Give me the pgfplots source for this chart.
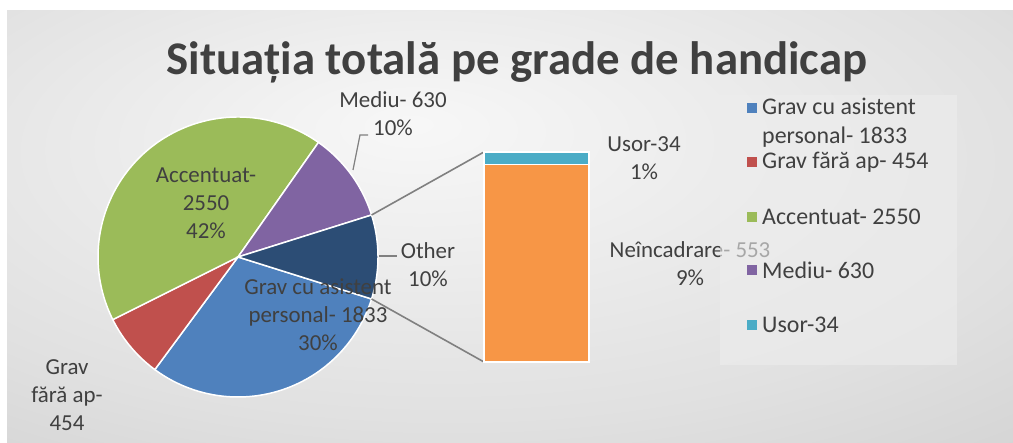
\documentclass[border=0pt]{standalone}
\usepackage{pgfplots}
\pgfplotsset{compat=1.18}
\usepackage{fontspec}
\setmainfont{Carlito}
\definecolor{cBlue}{HTML}{4F81BD}
\definecolor{cRed}{HTML}{C0504D}
\definecolor{cGreen}{HTML}{9BBB59}
\definecolor{cPurple}{HTML}{8064A2}
\definecolor{cNavy}{HTML}{2C4D75}
\definecolor{cAqua}{HTML}{4BACC6}
\definecolor{cOrange}{HTML}{F79646}
\definecolor{cText}{HTML}{404040}
\definecolor{cLine}{HTML}{808080}
\pgfdeclareradialshading{bgshade}{\pgfpoint{-5bp}{12bp}}{color(0bp)=(white!97!black); color(30bp)=(white!88!black); color(50bp)=(white!80!black); color(75bp)=(white!74!black)}
\begin{document}
\begin{tikzpicture}[x=1bp,y=1bp]
% data
\def\vGrav{1833}\def\vGravF{454}\def\vAcc{2550}\def\vMed{630}\def\vNeinc{553}\def\vUsor{34}
\pgfmathsetmacro\vOther{\vNeinc+\vUsor}
\pgfmathsetmacro\tot{\vGrav+\vGravF+\vAcc+\vMed+\vOther}
\pgfmathsetmacro\k{360/\tot}
\pgfmathsetmacro\aO{\vOther*\k/2}
\pgfmathsetmacro\aA{-\aO}
\pgfmathsetmacro\aB{\aA-\vGrav*\k}
\pgfmathsetmacro\aC{\aB-\vGravF*\k}
\pgfmathsetmacro\aD{\aC-\vAcc*\k}
\pgfmathsetmacro\aE{\aD-\vMed*\k}
\pgfmathsetmacro\aEp{\aE+360}
\pgfmathsetmacro\aDp{\aD+360}
\def\cx{238}\def\cy{186}\def\r{140}
\useasboundingbox (0,0) rectangle (1013,443);
\fill[white] (0,0) rectangle (1013,443);
\shade[shading=bgshade] (7,0) rectangle (1013,432);
\begin{axis}[at={(0bp,0bp)},anchor=south west,width=1013bp,height=443bp,scale only axis,
  xmin=0,xmax=1013,ymin=0,ymax=443,hide axis,clip=false]
\addplot[fill=cBlue,draw=white,line width=1.5pt,domain=\aB:\aA,samples=90,variable=\t]
  ({\cx+\r*cos(\t)},{\cy+\r*sin(\t)}) -- (axis cs:\cx,\cy) -- cycle;
\addplot[fill=cRed,draw=white,line width=1.5pt,domain=\aC:\aB,samples=40,variable=\t]
  ({\cx+\r*cos(\t)},{\cy+\r*sin(\t)}) -- (axis cs:\cx,\cy) -- cycle;
\addplot[fill=cGreen,draw=white,line width=1.5pt,domain=\aD:\aC,samples=120,variable=\t]
  ({\cx+\r*cos(\t)},{\cy+\r*sin(\t)}) -- (axis cs:\cx,\cy) -- cycle;
\addplot[fill=cPurple,draw=white,line width=1.5pt,domain=\aEp:\aDp,samples=40,variable=\t]
  ({\cx+\r*cos(\t)},{\cy+\r*sin(\t)}) -- (axis cs:\cx,\cy) -- cycle;
\addplot[fill=cNavy,draw=white,line width=1.5pt,domain=\aA:\aO,samples=40,variable=\t]
  ({\cx+\r*cos(\t)},{\cy+\r*sin(\t)}) -- (axis cs:\cx,\cy) -- cycle;
% connector lines
\draw[cLine,line width=1.6pt] (axis cs:{\cx+\r*cos(\aO)},{\cy+\r*sin(\aO)}) -- (axis cs:484,291);
\draw[cLine,line width=1.6pt] (axis cs:{\cx+\r*cos(\aA)},{\cy+\r*sin(\aA)}) -- (axis cs:484,81);
% leader lines
\draw[cLine,line width=1.2pt] (axis cs:353,273) -- (axis cs:360,308) -- (axis cs:368,308);
\draw[cLine,line width=1.2pt] (axis cs:379,187) -- (axis cs:397,187);
% labels
\begin{scope}[every node/.style={text=cText,align=center,font=\fontsize{23}{28}\selectfont,inner sep=0pt}]
\node at (axis cs:206,240) {Accentuat-\\2550\\42\%};
\node at (axis cs:318,128) {Grav cu asistent\\personal- 1833\\30\%};
\node at (axis cs:393,329) {Mediu- 630\\10\%};
\node at (axis cs:428,178) {Other\\10\%};
\node at (axis cs:67,48) {Grav\\fără ap-\\454};
\node at (axis cs:644,285) {Usor-34\\1\%};
\node at (axis cs:690,179) {Neîncadrare- 553\\9\%};
\end{scope}
% legend
\fill[white!93!black,opacity=0.6] (axis cs:720,78) rectangle (axis cs:957,348);
\begin{scope}[every node/.style={text=cText,anchor=west,font=\fontsize{24}{29}\selectfont,inner sep=0pt,align=left}]
\fill[cBlue] (axis cs:747,330) rectangle (axis cs:757,340);
\node at (axis cs:762,320) {Grav cu asistent\\personal- 1833};
\fill[cRed] (axis cs:747,276) rectangle (axis cs:757,286);
\node at (axis cs:762,281) {Grav fără ap- 454};
\fill[cGreen] (axis cs:747,221) rectangle (axis cs:757,231);
\node at (axis cs:762,226) {Accentuat- 2550};
\fill[cPurple] (axis cs:747,168) rectangle (axis cs:757,178);
\node at (axis cs:762,173) {Mediu- 630};
\fill[cAqua] (axis cs:747,113) rectangle (axis cs:757,123);
\node at (axis cs:762,118) {Usor-34};
\end{scope}
\node[text=cText,font=\fontsize{47}{52}\selectfont\bfseries,anchor=base] at (axis cs:517,368) {Situația totală pe grade de handicap};
\end{axis}
\begin{axis}[at={(484bp,81bp)},anchor=south west,width=105bp,height=210bp,scale only axis,
  hide axis,ybar stacked,bar width=105bp,xmin=-0.5,xmax=0.5,ymin=0,ymax=587,enlargelimits=false,clip=false]
\addplot[fill=cOrange,draw=white,line width=1.2pt] coordinates {(0,\vNeinc)};
\addplot[fill=cAqua,draw=white,line width=1.2pt] coordinates {(0,\vUsor)};
\end{axis}
\end{tikzpicture}
\end{document}
